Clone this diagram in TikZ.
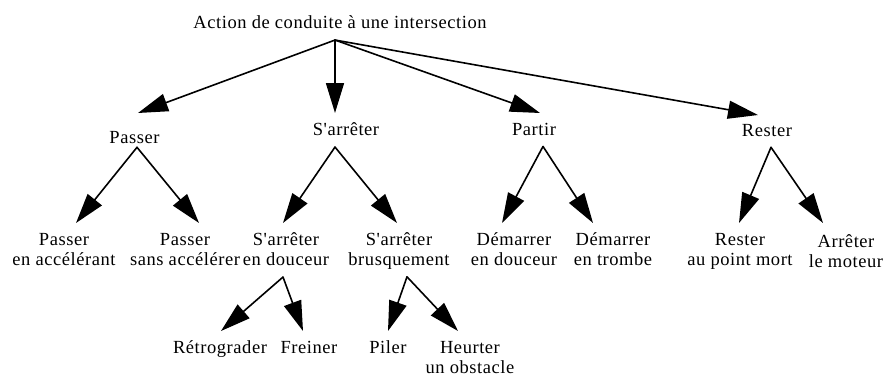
\documentclass[tikz,border=0pt]{standalone}
\usepackage{fontspec}
\setmainfont{Liberation Serif}[LetterSpace=3, Ligatures=TeXOff]
\usetikzlibrary{arrows.meta}
\begin{document}
\begin{tikzpicture}[x=1pt, y=-1pt, line join=round, line cap=round,
    lbl/.style={anchor=north, inner sep=0pt, outer sep=0pt, align=center, font=\fontsize{18.5}{20}\selectfont},
    arr/.style={-{Triangle[length=30pt,width=18pt]}, line width=1.6pt}]
  \useasboundingbox (0,0) rectangle (885,376);

  \node[lbl] (root) at (340,16) {Action de conduite à une intersection};

  \node[lbl] (pa) at (134.5,131) {Passer};
  \node[lbl] (sa) at (346,123) {S'arrêter};
  \node[lbl] (pt) at (534,123) {Partir};
  \node[lbl] (re) at (767,124) {Rester};

  \node[lbl] (pa1) at (64,233) {Passer\\en accélérant};
  \node[lbl] (pa2) at (185,233) {Passer\\sans accélérer};
  \node[lbl] (sa1) at (286,233) {S'arrêter\\en douceur};
  \node[lbl] (sa2) at (399,233) {S'arrêter\\brusquement};
  \node[lbl] (pt1) at (514,233) {Démarrer\\en douceur};
  \node[lbl] (pt2) at (613,233) {Démarrer\\en trombe};
  \node[lbl] (re1) at (740,233) {Rester\\au point mort};
  \node[lbl] (re2) at (846,235) {Arrêter\\le moteur};

  \node[lbl] (sa11) at (220,341) {Rétrograder};
  \node[lbl] (sa12) at (309,341) {Freiner};
  \node[lbl] (sa21) at (388,341) {Piler};
  \node[lbl] (sa22) at (470,341) {Heurter\\un obstacle};

  % premier niveau
  \draw[arr] ([xshift=-5pt,yshift=-11pt]root.south) -- ([xshift=3.5pt,yshift=18pt]pa.north);
  \draw[arr] ([xshift=-5pt,yshift=-11pt]root.south) -- ([xshift=-11pt,yshift=10pt]sa.north);
  \draw[arr] ([xshift=-5pt,yshift=-11pt]root.south) -- ([xshift=6pt,yshift=10pt]pt.north);
  \draw[arr] ([xshift=-5pt,yshift=-11pt]root.south) -- ([xshift=-9pt,yshift=9pt]re.north);

  % second niveau
  \draw[arr] ([xshift=2.5pt,yshift=-4pt]pa.south) -- ([xshift=12pt,yshift=10pt]pa1.north);
  \draw[arr] ([xshift=2.5pt,yshift=-4pt]pa.south) -- ([xshift=14pt,yshift=10pt]pa2.north);
  \draw[arr] ([xshift=-11pt,yshift=-11pt]sa.south) -- ([xshift=-3pt,yshift=10pt]sa1.north);
  \draw[arr] ([xshift=-11pt,yshift=-11pt]sa.south) -- ([xshift=-2pt,yshift=10pt]sa2.north);
  \draw[arr] ([xshift=9pt,yshift=-11pt]pt.south) -- ([xshift=-12pt,yshift=10pt]pt1.north);
  \draw[arr] ([xshift=9pt,yshift=-11pt]pt.south) -- ([xshift=-20pt,yshift=10pt]pt2.north);
  \draw[arr] ([xshift=4pt,yshift=-11pt]re.south) -- ([xshift=-1pt,yshift=10pt]re1.north);
  \draw[arr] ([xshift=4pt,yshift=-11pt]re.south) -- ([xshift=-23pt,yshift=12pt]re2.north);

  % troisieme niveau
  \draw[arr] ([xshift=-3pt,yshift=-11pt]sa1.south) -- ([xshift=1pt,yshift=10pt]sa11.north);
  \draw[arr] ([xshift=-3pt,yshift=-11pt]sa1.south) -- ([xshift=-6pt,yshift=10pt]sa12.north);
  \draw[arr] ([xshift=8pt,yshift=-7pt]sa2.south) -- ([xshift=0pt,yshift=10pt]sa21.north);
  \draw[arr] ([xshift=8pt,yshift=-7pt]sa2.south) -- ([xshift=-12pt,yshift=10pt]sa22.north);
\end{tikzpicture}
\end{document}
